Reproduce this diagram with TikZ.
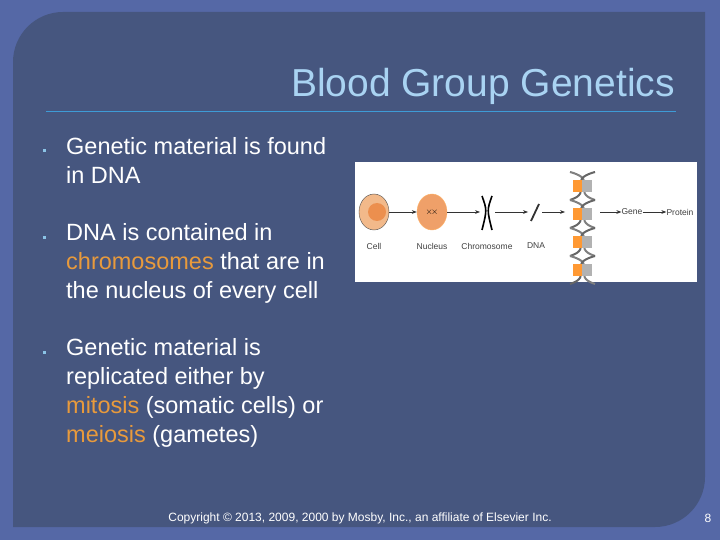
\documentclass[tikz,border=0pt]{standalone}
\usepackage{fontspec}
\setmainfont{Liberation Sans}
\usetikzlibrary{arrows.meta,shapes.geometric}
\definecolor{outerbg}{HTML}{5568A6}
\definecolor{innerbg}{HTML}{46567F}
\definecolor{titlec}{HTML}{A9D3F2}
\definecolor{rulec}{HTML}{3E9BD6}
\definecolor{orangec}{HTML}{E89A3C}
\definecolor{cellc}{HTML}{F2B98A}
\definecolor{nucc}{HTML}{EC8F4E}
\tikzset{
 body/.style={anchor=north west,text=white,font=\fontsize{23.5}{29}\selectfont,align=left,inner sep=0pt},
 bul/.style={fill=rulec!60!white,minimum size=3pt,inner sep=0pt},
 lab/.style={font=\fontsize{8.5}{9}\selectfont,text=black!75,inner sep=0pt},
 arr/.style={-{Stealth[length=5pt]},black!80,line width=0.6pt},
}
\begin{document}
\begin{tikzpicture}[x=1pt,y=-1pt]
\useasboundingbox (0,0) rectangle (720,540);
\fill[outerbg] (0,0) rectangle (720,540);
\fill[innerbg] (13,527) -- (13,62) arc[start angle=180,end angle=270,radius=50] -- (705,12) -- (705,477) arc[start angle=0,end angle=90,radius=50] -- cycle;
\node[anchor=base east,text=titlec,font=\fontsize{39}{40}\selectfont,inner sep=0pt] (title) at (675,97) {Blood Group Genetics};
\draw[rulec,line width=1pt] (46,112) -- (676,112);
\node[bul] (b1) at (44,151) {};
\node[bul] (b2) at (44,237) {};
\node[bul] (b3) at (44,352) {};
\node[body] (t1) at (66,137) {Genetic material is found\\in DNA};
\node[body] (t2) at (66,223) {DNA is contained in\\{\color{orangec}chromosomes} that are in\\the nucleus of every cell};
\node[body] (t3) at (66,338) {Genetic material is\\replicated either by\\{\color{orangec}mitosis} (somatic cells) or\\{\color{orangec}meiosis} (gametes)};
% figure
\node[fill=white,minimum width=342,minimum height=120,inner sep=0pt,anchor=north west] (fig) at (355,162) {};
\node[ellipse,draw=black!70,fill=cellc,minimum width=30,minimum height=36,inner sep=0pt] (cell) at (374,212) {};
\fill[nucc] (377,212) circle (9);
\node[ellipse,draw=orange!60,fill=nucc!85,minimum width=30,minimum height=36,inner sep=0pt] (nuc) at (432,212) {};
\node[font=\fontsize{9}{9}\selectfont] (nx) at (432,212) {$\times\!\times$};
\draw[black,line width=1.6pt] (482,196) .. controls (487,210) .. (482,230);
\draw[black,line width=1.6pt] (492,196) .. controls (487,210) .. (492,230);
\coordinate (chl) at (480,212); \coordinate (chr) at (495,212);
\draw[black!80,line width=1.8pt] (531,221) -- (539,204);
\coordinate (dnal) at (528,212); \coordinate (dnar) at (542,212);
% helix
\foreach \i in {0,1,2,3} {
 \draw[gray,line width=2pt] (570,172+\i*28) .. controls (600,180+\i*28) and (570,192+\i*28) .. (595,200+\i*28);
 \draw[black!60,line width=2pt] (595,172+\i*28) .. controls (565,180+\i*28) and (595,192+\i*28) .. (570,200+\i*28);
 \fill[orange!80] (573,180+\i*28) rectangle (582,192+\i*28);
 \fill[gray!60] (582,180+\i*28) rectangle (592,192+\i*28);
}
\coordinate (hl) at (565,212); \coordinate (hr) at (600,212);
\node[lab] (gene) at (632,212) {Gene};
\node[lab] (prot) at (680,212) {Protein};
\draw[arr] (cell.east) -- (nuc.west);
\draw[arr] (nuc.east) -- (chl);
\draw[arr] (chr) -- (dnal);
\draw[arr] (dnar) -- (hl);
\draw[arr] (hr) -- (gene.west);
\draw[arr] (gene.east) -- (prot.west);
\node[lab] (l1) at (374,246) {Cell};
\node[lab] (l2) at (432,246) {Nucleus};
\node[lab] (l3) at (487,246) {Chromosome};
\node[lab] (l4) at (536,246) {DNA};
% footer
\node[text=white,font=\fontsize{12}{13}\selectfont,inner sep=0pt] (foot) at (360,518) {Copyright © 2013, 2009, 2000 by Mosby, Inc., an affiliate of Elsevier Inc.};
\node[text=white,font=\fontsize{12}{13}\selectfont,inner sep=0pt] (pg) at (708,518) {8};
\end{tikzpicture}
\end{document}
